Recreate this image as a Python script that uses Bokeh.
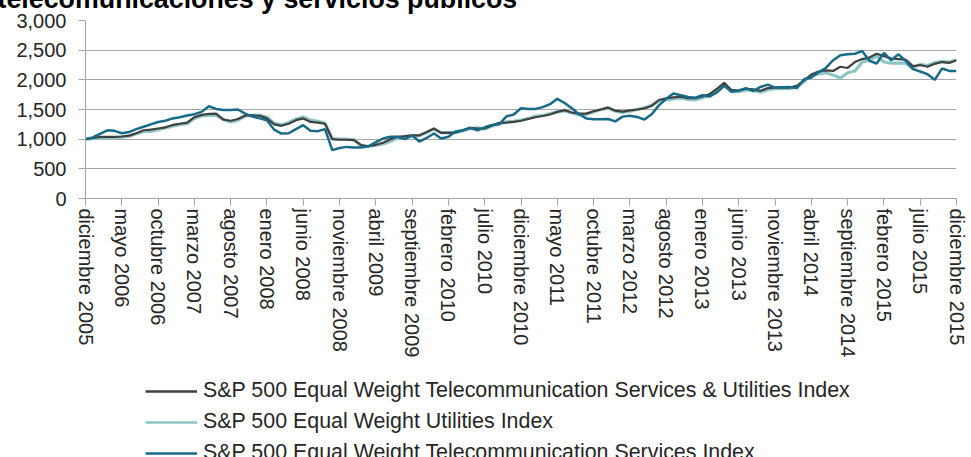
from bokeh.plotting import figure
from bokeh.layouts import column
from bokeh.models import (ColumnDataSource, Range1d, FixedTicker, NumeralTickFormatter,
                          Legend, LegendItem)
from bokeh.embed import file_html
from bokeh.resources import INLINE

title_text = "telecomunicaciones y servicios públicos"

series_names = [
    "S&P 500 Equal Weight Telecommunication Services & Utilities Index",
    "S&P 500 Equal Weight Utilities Index",
    "S&P 500 Equal Weight Telecommunication Services Index",
]

tick_labels = [
    "diciembre 2005", "mayo 2006", "octubre 2006", "marzo 2007", "agosto 2007",
    "enero 2008", "junio 2008", "noviembre 2008", "abril 2009", "septiembre 2009",
    "febrero 2010", "julio 2010", "diciembre 2010", "mayo 2011", "octubre 2011",
    "marzo 2012", "agosto 2012", "enero 2013", "junio 2013", "noviembre 2013",
    "abril 2014", "septiembre 2014", "febrero 2015", "julio 2015", "diciembre 2015",
]

composite = [
    1000, 1020, 1040, 1040, 1040, 1045, 1060, 1100, 1150, 1160,
    1180, 1200, 1240, 1260, 1280, 1370, 1410, 1425, 1430, 1330,
    1310, 1340, 1400, 1400, 1395, 1350, 1250, 1225, 1260, 1320,
    1350, 1290, 1280, 1260, 1000, 990, 990, 985, 900, 880,
    905, 940, 1000, 1040, 1050, 1065, 1065, 1120, 1180, 1105,
    1105, 1110, 1150, 1190, 1180, 1180, 1230, 1275, 1280, 1290,
    1310, 1340, 1370, 1390, 1415, 1460, 1490, 1450, 1430, 1430,
    1470, 1500, 1535, 1480, 1465, 1485, 1500, 1520, 1560, 1660,
    1690, 1705, 1715, 1690, 1690, 1720, 1760, 1850, 1950, 1830,
    1820, 1850, 1840, 1815, 1860, 1870, 1870, 1870, 1900, 1990,
    2090, 2140, 2160, 2150, 2220, 2200, 2300, 2350, 2375, 2440,
    2400, 2360, 2350, 2340, 2230, 2250, 2220, 2270, 2300, 2285,
    2330,
]

utilities = [
    1000, 1010, 1020, 1020, 1025, 1035, 1050, 1090, 1130, 1130,
    1160, 1190, 1220, 1250, 1260, 1350, 1390, 1400, 1400, 1330,
    1290, 1320, 1390, 1400, 1405, 1370, 1270, 1240, 1280, 1340,
    1375, 1320, 1300, 1270, 1010, 1000, 1000, 990, 880, 880,
    900, 920, 960, 1020, 1040, 1055, 1055, 1110, 1170, 1110,
    1110, 1120, 1140, 1180, 1190, 1170, 1220, 1260, 1290, 1300,
    1320, 1350, 1390, 1400, 1430, 1460, 1480, 1440, 1410, 1420,
    1460, 1500, 1520, 1470, 1450, 1470, 1500, 1530, 1570, 1640,
    1660, 1680, 1690, 1670, 1660, 1700, 1740, 1830, 1930, 1800,
    1800, 1830, 1820, 1790, 1830, 1850, 1850, 1850, 1880, 1970,
    2080, 2100, 2120, 2080, 2030, 2120, 2150, 2300, 2330, 2400,
    2300, 2280, 2280, 2280, 2200, 2260, 2240, 2290, 2310, 2300,
    2340,
]

telecom = [
    1000, 1030, 1090, 1150, 1140, 1100, 1120, 1170, 1210, 1250,
    1290, 1310, 1350, 1370, 1400, 1420, 1460, 1555, 1510, 1490,
    1490, 1500, 1430, 1380, 1350, 1320, 1160, 1095, 1100, 1170,
    1235, 1140, 1135, 1170, 815, 850, 870, 860, 860, 880,
    950, 1010, 1040, 1040, 1000, 1060, 960, 1020, 1095, 1010,
    1040, 1130, 1150, 1190, 1150, 1200, 1240, 1250, 1385, 1415,
    1520, 1510, 1510, 1540, 1590, 1680, 1610, 1520, 1420, 1350,
    1335, 1335, 1340, 1300, 1380, 1395, 1375, 1330, 1420, 1570,
    1680, 1770, 1740, 1710, 1700, 1740, 1720, 1790, 1900, 1800,
    1820, 1860, 1810, 1880, 1920, 1870, 1875, 1880, 1860, 2010,
    2040, 2130, 2200, 2330, 2415, 2430, 2440, 2485, 2320, 2275,
    2455, 2330, 2430, 2320, 2180, 2140, 2095, 2000, 2190, 2150,
    2150,
]

colors = ["#404040", "#8cc5c6", "#176b89"]
widths = [2.2, 3.2, 2.5]

months = list(range(len(telecom)))
src = ColumnDataSource(dict(m=months, c=composite, u=utilities, t=telecom))

FONT = "Liberation Sans"
TXT = "#262626"
GRID = "#a6a6a6"

p = figure(width=971, height=373, output_backend="svg", toolbar_location=None,
           x_range=Range1d(0, 120), y_range=Range1d(0, 3000),
           min_border_left=85, min_border_right=15, min_border_top=20,
           min_border_bottom=175)
p.outline_line_color = None
p.background_fill_color = "white"
p.border_fill_color = "white"

# title, mostly cut off by the top edge as in the reference
p.title.text = title_text
p.title.align = "left"
p.title.offset = -88
p.title.standoff = -74
p.title.vertical_align = "top"
p.title.text_font = FONT
p.title.text_font_size = "26.8px"
p.title.text_font_style = "bold"
p.title.text_color = "#000000"

p.line("m", "u", source=src, line_color=colors[1], line_width=widths[1])
p.line("m", "c", source=src, line_color=colors[0], line_width=widths[0])
p.line("m", "t", source=src, line_color=colors[2], line_width=widths[2])

p.xgrid.grid_line_color = None
p.ygrid.grid_line_color = GRID
p.ygrid.grid_line_width = 1
p.yaxis.ticker = FixedTicker(ticks=[0, 500, 1000, 1500, 2000, 2500, 3000])
p.yaxis.formatter = NumeralTickFormatter(format="0,0")
p.yaxis.axis_line_color = GRID
p.yaxis.major_tick_line_color = GRID
p.yaxis.major_tick_out = 7
p.yaxis.major_tick_in = 0
p.yaxis.minor_tick_line_color = None
p.yaxis.major_label_standoff = 12
p.yaxis.major_label_text_font = FONT
p.yaxis.major_label_text_font_size = "20px"
p.yaxis.major_label_text_color = TXT

tick_pos = list(range(0, 121, 5))
p.xaxis.ticker = FixedTicker(ticks=tick_pos)
p.xaxis.major_label_overrides = {pos: lab for pos, lab in zip(tick_pos, tick_labels)}
p.xaxis.major_label_orientation = "vertical"
p.xaxis.axis_line_color = GRID
p.xaxis.major_tick_line_color = GRID
p.xaxis.major_tick_out = 7
p.xaxis.major_tick_in = 0
p.xaxis.minor_tick_line_color = None
p.xaxis.major_label_standoff = 3
p.xaxis.major_label_text_font = FONT
p.xaxis.major_label_text_font_size = "20px"
p.xaxis.major_label_text_color = TXT

# legend in its own strip below the chart (its lines fall outside the strip's ranges)
lg = figure(width=971, height=84, output_backend="svg", toolbar_location=None,
            x_range=Range1d(0, 1), y_range=Range1d(0, 1),
            x_axis_type=None, y_axis_type=None,
            min_border_left=0, min_border_right=0, min_border_top=0,
            min_border_bottom=0)
lg.grid.visible = False
lg.outline_line_color = None
items = []
for name, col, w, vals in zip(series_names, colors, widths, [composite, utilities, telecom]):
    r = lg.line(months, vals, line_color=col, line_width=2.5)
    items.append(LegendItem(label=name, renderers=[r]))
legend = Legend(items=items, location=(60, -8))
legend.orientation = "vertical"
legend.padding = 0
legend.margin = 0
legend.spacing = 6
legend.glyph_width = 52
legend.glyph_height = 24
legend.label_height = 24
legend.label_standoff = 6
legend.border_line_color = None
legend.background_fill_alpha = 0
legend.label_text_font = FONT
legend.label_text_font_size = "21.4px"
legend.label_text_color = TXT
lg.add_layout(legend, "center")

layout = column(p, lg, spacing=0)
open("out.html", "w").write(file_html(layout, INLINE))
